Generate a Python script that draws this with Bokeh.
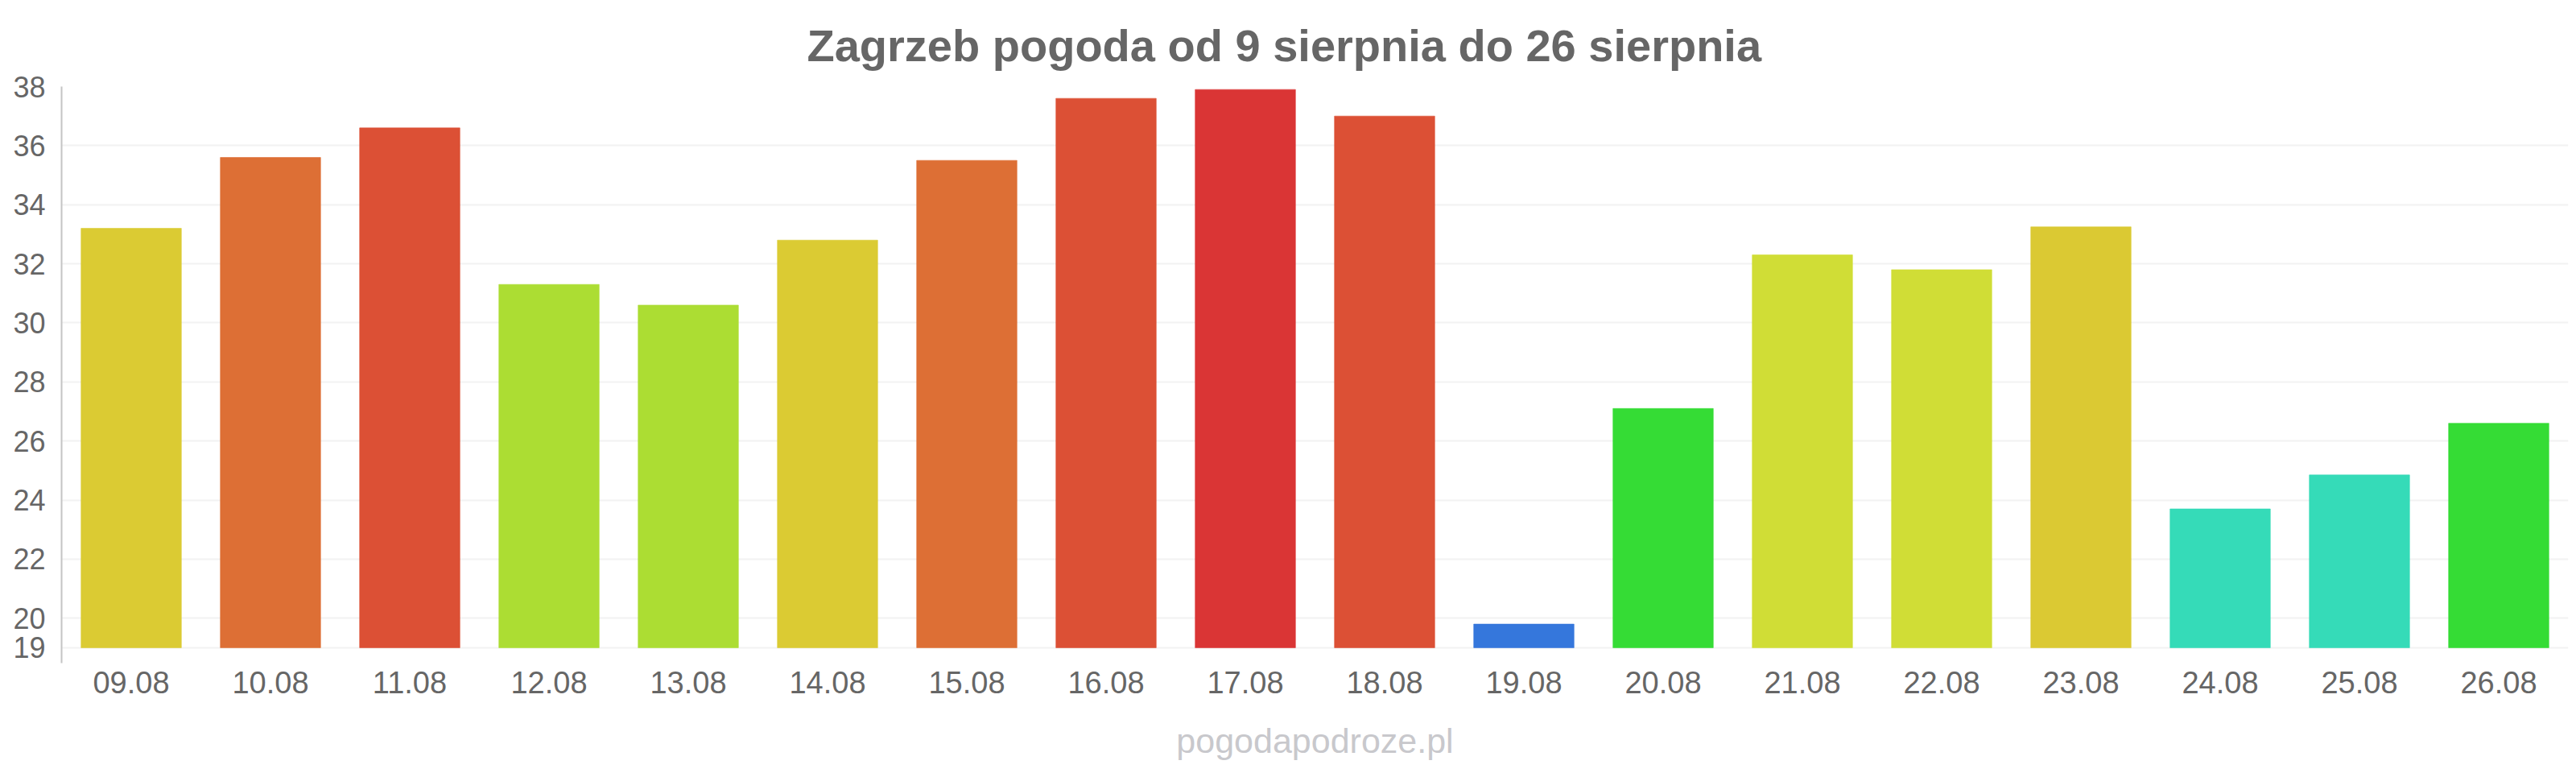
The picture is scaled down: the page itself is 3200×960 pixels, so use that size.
from bokeh.plotting import figure
from bokeh.models import ColumnDataSource, FixedTicker, Title, Range1d, FactorRange
from bokeh.embed import file_html
from bokeh.resources import INLINE

# ---- data ----
days = ["09.08", "10.08", "11.08", "12.08", "13.08", "14.08", "15.08", "16.08", "17.08",
        "18.08", "19.08", "20.08", "21.08", "22.08", "23.08", "24.08", "25.08", "26.08"]
temps = [33.2, 35.6, 36.6, 31.3, 30.6, 32.8, 35.5, 37.6, 37.9,
         37.0, 19.8, 27.1, 32.3, 31.8, 33.25, 23.7, 24.85, 26.6]
bar_colors = ["#dbcb33", "#dd6f35", "#dc5035", "#acdd33", "#acdd33", "#dbcb33", "#dd6f35",
              "#dc5035", "#da3535", "#dc5035", "#3577dc", "#35dc35", "#d0dd36", "#d0dd36",
              "#dbc933", "#35dbb8", "#35dbb8", "#35dc35"]
y_ticks = [19, 20, 22, 24, 26, 28, 30, 32, 34, 36, 38]
y_min, y_max, bar_base = 18.48, 38, 19
title_text = "Zagrzeb pogoda od 9 sierpnia do 26 sierpnia"
watermark_text = "pogodapodroze.pl"

FONT = "Liberation Sans"
W, H = 3200, 960
ML, MR, MT, MB = 76, 10, 107, 137

src = ColumnDataSource(dict(day=days, temp=temps, color=bar_colors))

p = figure(width=W, height=H,
           x_range=FactorRange(factors=days, range_padding=0),
           y_range=Range1d(y_min, y_max),
           output_backend="svg", toolbar_location=None,
           min_border_left=ML, min_border_right=MR,
           min_border_top=MT, min_border_bottom=MB)
p.outline_line_color = None
p.background_fill_color = "white"
p.border_fill_color = "white"

p.vbar(x="day", top="temp", bottom=bar_base, width=0.72, source=src,
       fill_color="color", line_color="color", line_alpha=0.6, line_width=1)

# y axis
p.yaxis.ticker = FixedTicker(ticks=y_ticks)
p.yaxis.axis_line_color = "#c4c4c4"
p.yaxis.axis_line_width = 2
p.yaxis.major_tick_line_color = None
p.yaxis.minor_tick_line_color = None
p.yaxis.major_tick_out = 0
p.yaxis.major_label_standoff = 20
p.yaxis.major_label_text_font = FONT
p.yaxis.major_label_text_font_size = "36px"
p.yaxis.major_label_text_color = "#666666"

# x axis (watermark drawn as the axis label)
p.xaxis.axis_line_color = None
p.xaxis.major_tick_line_color = None
p.xaxis.minor_tick_line_color = None
p.xaxis.major_tick_out = 0
p.xaxis.major_label_standoff = 10
p.xaxis.major_label_text_font = FONT
p.xaxis.major_label_text_font_size = "38px"
p.xaxis.major_label_text_color = "#666666"
p.xaxis.axis_label = watermark_text
p.xaxis.axis_label_standoff = 32
p.xaxis.axis_label_text_font = FONT
p.xaxis.axis_label_text_font_size = "43px"
p.xaxis.axis_label_text_font_style = "normal"
p.xaxis.axis_label_text_color = "#c8c8cc"

p.xgrid.grid_line_color = None
p.ygrid.ticker = FixedTicker(ticks=y_ticks)
p.ygrid.grid_line_color = "#f2f2f2"
p.ygrid.grid_line_width = 2

p.title = Title(text=title_text, align="left", offset=926, standoff=40,
                text_font=FONT, text_font_size="56px", text_font_style="bold",
                text_color="#666666")

open("out.html", "w").write(file_html(p, INLINE))
